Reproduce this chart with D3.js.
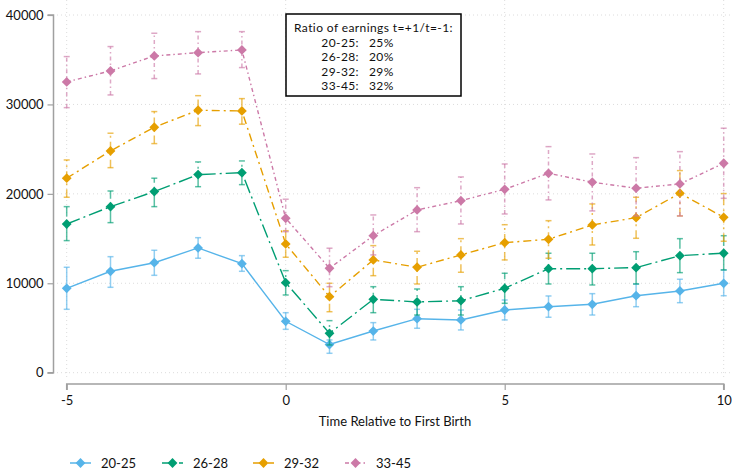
<!DOCTYPE html>
<html><head><meta charset="utf-8">
<script src="https://cdn.jsdelivr.net/npm/d3@7"></script>
<style>body{margin:0;background:#fff;}svg{display:block;font-family:Lato,"Open Sans",sans-serif;}</style>
</head><body><svg id="c" width="732" height="470"></svg>
<script>
const times = [-5,-4,-3,-2,-1,0,1,2,3,4,5,6,7,8,9,10];
const seriesNames = ["20-25","26-28","29-32","33-45"];
const ratios = ["25%","20%","29%","32%"];
const v2025 = [9440,11340,12300,13950,12190,5750,3150,4660,6040,5900,7010,7380,7650,8610,9140,10000];
const lo2025 = [7090,9550,10890,12800,11340,4850,2170,3660,4970,4780,5900,6200,6450,7380,7830,8610];
const hi2025 = [11790,12975,13690,15100,13090,6710,3660,5600,7090,7010,8130,8580,8840,9920,10450,11490];
const v2628 = [16630,18570,20250,22150,22370,10070,4400,8210,7910,8050,9440,11630,11630,11750,13090,13360];
const lo2628 = [14770,16780,18570,20800,21030,8690,3100,6710,6450,6450,7760,9920,9810,9920,11190,11490];
const hi2628 = [18570,20320,21750,23570,23680,11410,5820,9620,9360,9620,11120,13360,13360,13530,14990,15320];
const v2932 = [21750,24800,27450,29350,29270,14400,8500,12610,11790,13170,14540,14920,16520,17340,20070,17380];
const lo2932 = [19620,22930,25620,27630,27790,12910,6820,10850,9920,11230,12610,12800,14280,15030,17530,14700];
const hi2932 = [23790,26780,29200,30980,30650,15880,10000,14210,13580,14990,16550,17000,18870,19620,22600,20030];
const v3345 = [32520,33750,35420,35790,36090,17270,11680,15320,18200,19240,20510,22300,21300,20630,21110,23420];
const lo3345 = [29640,31060,32890,33410,34120,15770,9620,13170,15770,16630,17750,19320,18090,17530,17530,19500];
const hi3345 = [35350,36470,37960,38140,38140,19400,13920,17640,20690,21890,23340,25280,24460,24050,24720,27340];
const xTicks = [-5,0,5,10];
const yTicks = [0,10000,20000,30000,40000];
const xTitle = "Time Relative to First Birth";
const boxTitle = "Ratio of earnings t=+1/t=-1:";

const series = [
  {name:seriesNames[0], v:v2025, lo:lo2025, hi:hi2025, color:"#56B4E9", dash:null, ldash:null},
  {name:seriesNames[1], v:v2628, lo:lo2628, hi:hi2628, color:"#009E73", dash:"14,4,2,4", ldash:"9,3,2,3"},
  {name:seriesNames[2], v:v2932, lo:lo2932, hi:hi2932, color:"#E69F00", dash:"8,4,2,4", ldash:"7,3,2,3"},
  {name:seriesNames[3], v:v3345, lo:lo3345, hi:hi3345, color:"#CC79A7", dash:"4,3,1.5,3", ldash:"4,3,1.5,3"}
];

const svg = d3.select("#c");
const x = d3.scaleLinear().domain([-5,10]).range([66.7,723.7]);
const y = d3.scaleLinear().domain([0,40000]).range([372.7,15]);

// grid
const grid = svg.append("g").attr("stroke","#dcdcdc").attr("stroke-width",1).attr("stroke-dasharray","1,3");
grid.selectAll(".gy").data(yTicks).join("line").attr("x1",57).attr("x2",731).attr("y1",d=>y(d)).attr("y2",d=>y(d));
grid.selectAll(".gx").data(xTicks).join("line").attr("x1",d=>x(d)).attr("x2",d=>x(d)).attr("y1",0).attr("y2",380);

// axes
const yAxis = d3.axisLeft(y).tickValues(yTicks).tickSize(6).tickPadding(4).tickFormat(d=>String(d));
const gy = svg.append("g").attr("transform","translate(53.5,0)").call(yAxis);
const xAxis = d3.axisBottom(x).tickValues(xTicks).tickSize(6).tickPadding(6).tickFormat(d=>String(d));
const gx = svg.append("g").attr("transform","translate(0,384)").call(xAxis);
[gy,gx].forEach(g=>{
  g.select(".domain").attr("stroke","#a0a0a0").attr("stroke-width",1.5);
  g.selectAll(".tick line").attr("stroke","#a0a0a0").attr("stroke-width",1.2);
  g.selectAll(".tick text").attr("fill","#111").attr("font-size",13).attr("font-family","Lato,sans-serif");
});
gy.select(".domain").attr("d","M-6,"+y(40000)+"H0V"+y(0)+"H-6");
gx.select(".domain").attr("d","M"+x(-5)+",6V0H"+x(10)+"V6");

svg.append("text").attr("x",395).attr("y",426).attr("text-anchor","middle").attr("font-size",13).attr("fill","#111").text(xTitle);

// series
const sqDiamond = {draw(ctx, size){ const r = Math.sqrt(size/2); ctx.moveTo(0,-r); ctx.lineTo(r,0); ctx.lineTo(0,r); ctx.lineTo(-r,0); ctx.closePath(); }};
const diamond = d3.symbol().type(sqDiamond).size(48);
series.forEach(s=>{
  const g = svg.append("g");
  const eb = g.append("g").attr("stroke",s.color).attr("stroke-opacity",0.65).attr("stroke-width",1.5);
  times.forEach((t,i)=>{
    eb.append("line").attr("x1",x(t)).attr("x2",x(t)).attr("y1",y(s.lo[i])).attr("y2",y(s.hi[i])).attr("stroke-dasharray",s.dash);
    eb.append("line").attr("x1",x(t)-3).attr("x2",x(t)+3).attr("y1",y(s.lo[i])).attr("y2",y(s.lo[i]));
    eb.append("line").attr("x1",x(t)-3).attr("x2",x(t)+3).attr("y1",y(s.hi[i])).attr("y2",y(s.hi[i]));
  });
  const line = d3.line().x((d,i)=>x(times[i])).y(d=>y(d));
  g.append("path").datum(s.v).attr("d",line).attr("fill","none").attr("stroke",s.color).attr("stroke-width",1.4).attr("stroke-dasharray",s.dash);
  g.selectAll("path.m").data(s.v).join("path").attr("class","m").attr("d",diamond)
    .attr("transform",(d,i)=>`translate(${x(times[i])},${y(d)})`).attr("fill",s.color);
});

// ratio box
const bx = svg.append("g").attr("font-size",12).attr("fill","#111").attr("letter-spacing","0.4px");
bx.append("rect").attr("x",286).attr("y",14).attr("width",175).attr("height",82).attr("fill","#fff").attr("stroke","#000").attr("stroke-width",1.5);
bx.append("text").attr("x",373.5).attr("y",32.3).attr("text-anchor","middle").text(boxTitle);
seriesNames.forEach((n,i)=>{
  bx.append("text").attr("x",359).attr("y",47+i*14.4).attr("text-anchor","end").text(n+":");
  bx.append("text").attr("x",369).attr("y",47+i*14.4).text(ratios[i]);
});

// legend
const legX = [70,162,253,345];
series.forEach((s,i)=>{
  const lg = svg.append("g").attr("transform",`translate(${legX[i]},463)`);
  lg.append("line").attr("x1",0).attr("x2",21).attr("stroke",s.color).attr("stroke-width",1.5).attr("stroke-dasharray",s.ldash);
  lg.append("path").attr("d",diamond).attr("transform","translate(10.5,0)").attr("fill",s.color);
  lg.append("text").attr("x",31).attr("y",4.5).attr("font-size",13).attr("fill","#111").text(s.name);
});
</script></body></html>
